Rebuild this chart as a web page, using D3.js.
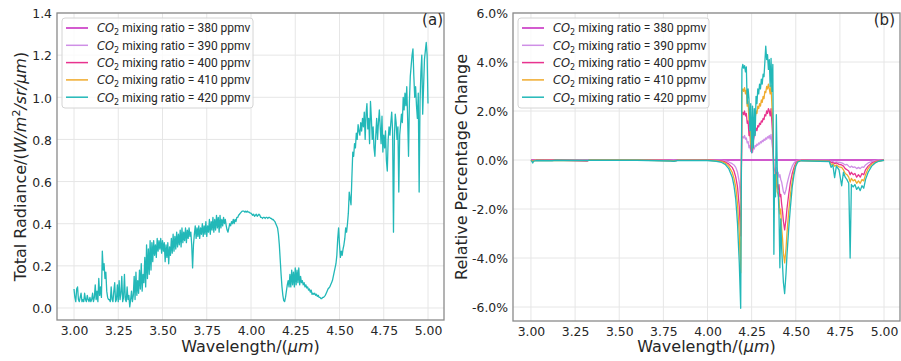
<!DOCTYPE html>
<html>
<head>
<meta charset="utf-8">
<script src="https://cdn.jsdelivr.net/npm/d3@7"></script>
<style>
  body { margin: 0; background: #fff; }
  svg { display: block; }
</style>
</head>
<body>
<svg id="chart" width="901" height="361"></svg>
<script>
// ---- data ----
const ppmvLevels = [380, 390, 400, 410, 420];
const seriesColors = ["#c424bf", "#cf8fe6", "#e8338f", "#f0ab2c", "#22b8b8"];

const xTickValues = [3.00, 3.25, 3.50, 3.75, 4.00, 4.25, 4.50, 4.75, 5.00];
const radianceTickValues = [0.0, 0.2, 0.4, 0.6, 0.8, 1.0, 1.2, 1.4];
const pctTickValues = [-6, -4, -2, 0, 2, 4, 6];

// total radiance spectrum (420 ppmv), one value every 0.005 µm from 3.000 to 5.000
const radianceStart = 3.00, radianceStep = 0.005;
const radiance420 = [
  0.09, 0.05, 0.03, 0.09, 0.10, 0.04, 0.03, 0.05, 0.07, 0.03, 0.04, 0.03, 0.07, 0.04, 0.03, 0.06, 0.04, 0.03, 0.05, 0.03, // 3.0
  0.04, 0.07, 0.03, 0.05, 0.11, 0.04, 0.08, 0.03, 0.14, 0.06, 0.10, 0.05, 0.27, 0.18, 0.21, 0.14, 0.17, 0.08, 0.05, 0.04, // 3.1
  0.04, 0.03, 0.10, 0.04, 0.03, 0.08, 0.12, 0.03, 0.04, 0.11, 0.03, 0.13, 0.04, 0.07, 0.15, 0.03, 0.05, 0.16, 0.04, 0.03, // 3.2
  0.10, 0.04, 0.06, 0.005, 0.04, 0.08, 0.03, 0.06, 0.15, 0.04, 0.17, 0.06, 0.13, 0.07, 0.18, 0.09, 0.21, 0.08, 0.16, 0.12, // 3.3
  0.24, 0.10, 0.30, 0.14, 0.28, 0.16, 0.32, 0.18, 0.31, 0.22, 0.32, 0.25, 0.30, 0.24, 0.33, 0.27, 0.32, 0.28, 0.33, 0.26, // 3.4
  0.32, 0.27, 0.31, 0.22, 0.30, 0.24, 0.31, 0.21, 0.29, 0.25, 0.33, 0.26, 0.35, 0.27, 0.34, 0.28, 0.36, 0.29, 0.35, 0.30, // 3.5
  0.37, 0.29, 0.38, 0.31, 0.36, 0.32, 0.38, 0.31, 0.37, 0.33, 0.38, 0.34, 0.36, 0.30, 0.19, 0.30, 0.35, 0.39, 0.33, 0.38, // 3.6
  0.34, 0.39, 0.33, 0.38, 0.35, 0.40, 0.34, 0.39, 0.35, 0.41, 0.34, 0.39, 0.36, 0.42, 0.35, 0.41, 0.37, 0.43, 0.36, 0.42, // 3.7
  0.37, 0.44, 0.38, 0.43, 0.36, 0.44, 0.38, 0.42, 0.39, 0.43, 0.40, 0.42, 0.39, 0.37, 0.36, 0.38, 0.40, 0.39, 0.41, 0.40, // 3.8
  0.42, 0.40, 0.42, 0.41, 0.43, 0.43, 0.44, 0.445, 0.45, 0.455, 0.46, 0.46, 0.46, 0.455, 0.46, 0.455, 0.46, 0.455, 0.455, 0.45, // 3.9
  0.45, 0.445, 0.44, 0.445, 0.435, 0.44, 0.445, 0.435, 0.44, 0.445, 0.44, 0.43, 0.43, 0.425, 0.43, 0.43, 0.425, 0.43, 0.43, 0.425, // 4.0
  0.43, 0.43, 0.425, 0.425, 0.42, 0.42, 0.415, 0.41, 0.40, 0.39, 0.38, 0.35, 0.30, 0.23, 0.16, 0.10, 0.06, 0.035, 0.03, 0.05, // 4.1
  0.08, 0.11, 0.13, 0.10, 0.16, 0.10, 0.18, 0.11, 0.17, 0.10, 0.19, 0.11, 0.18, 0.12, 0.19, 0.11, 0.15, 0.12, 0.13, 0.11, // 4.2
  0.12, 0.10, 0.11, 0.095, 0.10, 0.085, 0.09, 0.075, 0.085, 0.065, 0.07, 0.065, 0.07, 0.06, 0.065, 0.055, 0.06, 0.05, 0.05, 0.045, // 4.3
  0.045, 0.05, 0.05, 0.055, 0.06, 0.07, 0.08, 0.09, 0.095, 0.10, 0.11, 0.12, 0.13, 0.15, 0.17, 0.19, 0.21, 0.25, 0.33, 0.38, // 4.4
  0.30, 0.24, 0.27, 0.25, 0.28, 0.30, 0.33, 0.38, 0.36, 0.40, 0.45, 0.55, 0.52, 0.49, 0.62, 0.74, 0.72, 0.78, 0.76, 0.83, // 4.5
  0.80, 0.87, 0.84, 0.82, 0.88, 0.84, 0.90, 0.86, 0.93, 0.80, 0.92, 0.97, 0.85, 0.90, 0.78, 0.98, 0.90, 0.80, 0.86, 0.76, // 4.6
  0.72, 0.82, 0.90, 0.80, 0.88, 0.94, 0.86, 0.78, 0.91, 0.74, 0.82, 0.76, 0.84, 0.70, 0.65, 0.80, 0.86, 0.82, 0.88, 0.93, // 4.7
  0.84, 0.36, 0.80, 0.92, 0.88, 0.80, 0.86, 0.55, 0.82, 0.87, 0.92, 0.88, 1.00, 0.94, 1.02, 0.96, 1.05, 0.90, 0.72, 0.98, // 4.8
  1.10, 1.15, 1.20, 1.23, 1.10, 1.00, 1.05, 0.96, 0.90, 1.02, 0.55, 0.98, 1.12, 1.20, 0.92, 1.05, 1.18, 1.22, 1.26, 1.20, // 4.9
  0.97                                                                                                                  // 5.0
];

// relative percentage change against the 380 ppmv run
const pct380Wl = [3.00, 5.00];
const pct380 = [0, 0];

const pctWl = [
  3.000, 3.005, 3.010, 3.015, 3.030, 3.120, 3.140, 3.320, 3.330, 3.600,
  3.790, 3.810, 3.830, 4.000, 4.050, 4.080, 4.100, 4.120, 4.140, 4.150,
  4.160, 4.170, 4.180, 4.188, 4.195, 4.200, 4.205, 4.210, 4.215, 4.220,
  4.225, 4.230, 4.235, 4.240, 4.245, 4.250, 4.255, 4.260, 4.265, 4.270,
  4.275, 4.280, 4.285, 4.290, 4.295, 4.300, 4.305, 4.310, 4.315, 4.320,
  4.325, 4.330, 4.335, 4.340, 4.345, 4.350, 4.355, 4.360, 4.365, 4.370,
  4.373, 4.376, 4.380, 4.385, 4.390, 4.395, 4.400, 4.405, 4.410, 4.415,
  4.420, 4.425, 4.430, 4.437, 4.445, 4.450, 4.460, 4.470, 4.480, 4.490,
  4.500, 4.510, 4.530, 4.690, 4.700, 4.710, 4.720, 4.730, 4.745, 4.760,
  4.770, 4.780, 4.790, 4.800, 4.808, 4.815, 4.825, 4.835, 4.845, 4.855,
  4.865, 4.875, 4.885, 4.895, 4.910, 4.930, 4.950, 4.970, 5.000
];
const pct390 = [
  0, -0.01, -0.03, -0.01, 0, -0.01, 0, -0.01, 0, 0,
  -0.01, -0.01, 0, 0, -0.01, -0.02, -0.04, -0.08, -0.15, -0.2,
  -0.3, -0.5, -0.9, -1.6, 0.9, 0.95, 0.9, 1.0, 0.85, 0.9,
  0.7, 0.75, 0.5, 0.6, 0.35, 0.45, 0.3, 0.5, 0.45, 0.6,
  0.55, 0.65, 0.6, 0.7, 0.65, 0.75, 0.7, 0.8, 0.75, 0.85,
  0.8, 0.9, 0.85, 0.95, 0.9, 1.0, 0.85, 1.05, 0.7, 0.4,
  0.1, -0.3, -0.4, -0.5, -0.3, -0.6, -0.5, -0.7, -0.6, -0.8,
  -0.9, -1.1, -1.3, -1.4, -1.2, -1.0, -0.7, -0.45, -0.25, -0.12,
  -0.05, -0.02, 0, -0.02, -0.08, -0.06, -0.1, -0.08, -0.1, -0.12,
  -0.15, -0.2, -0.18, -0.25, -0.3, -0.25, -0.3, -0.28, -0.35, -0.3,
  -0.35, -0.28, -0.3, -0.2, -0.12, -0.06, -0.03, -0.01, 0
];
const pct400 = [
  0, -0.02, -0.05, -0.02, 0, -0.01, 0, -0.04, 0, 0,
  -0.02, -0.03, -0.01, 0, -0.02, -0.04, -0.08, -0.16, -0.3, -0.45,
  -0.7, -1.1, -1.9, -3.1, 1.9, 1.95, 1.85, 2.0, 1.8, 1.9,
  1.5, 1.6, 1.0, 1.2, 0.5, 0.3, 0.45, 0.8, 1.0, 1.1,
  1.3, 1.2, 1.4, 1.35, 1.5, 1.45, 1.6, 1.55, 1.7, 1.65,
  1.85, 1.8, 2.0, 1.9, 2.1, 2.0, 1.8, 2.1, 1.5, 0.9,
  0.2, -0.6, -0.8, -0.9, -0.5, -1.0, -1.2, -1.0, -1.5, -1.4,
  -1.8, -2.1, -2.5, -2.85, -2.4, -2.0, -1.4, -0.9, -0.55, -0.3,
  -0.12, -0.05, -0.01, -0.03, -0.12, -0.1, -0.15, -0.12, -0.18, -0.2,
  -0.25, -0.35, -0.4, -0.45, -0.6, -0.5, -0.6, -0.55, -0.7, -0.6,
  -0.7, -0.55, -0.6, -0.4, -0.25, -0.12, -0.06, -0.03, 0
];
const pct410 = [
  0, -0.03, -0.08, -0.03, -0.01, -0.02, -0.01, -0.02, 0, 0,
  -0.03, -0.04, -0.01, -0.01, -0.03, -0.07, -0.12, -0.25, -0.5, -0.75,
  -1.1, -1.8, -3.0, -4.6, 2.8, 2.9, 2.8, 2.95, 2.7, 2.85,
  2.2, 2.4, 1.6, 1.9, 0.7, 0.4, 0.9, 1.2, 1.5, 1.7,
  2.0, 1.9, 2.2, 2.1, 2.3, 2.2, 2.45, 2.35, 2.6, 2.5,
  2.8, 2.75, 3.0, 2.9, 3.1, 2.9, 2.7, 3.05, 2.2, 1.5,
  0.3, -1.2, -0.9, -1.2, -0.6, -1.3, -1.4, -1.6, -2.2, -2.0,
  -2.8, -3.2, -3.8, -4.2, -3.6, -3.0, -2.1, -1.4, -0.85, -0.45,
  -0.2, -0.07, -0.02, -0.05, -0.2, -0.15, -0.25, -0.2, -0.28, -0.3,
  -0.4, -0.55, -0.6, -0.7, -0.9, -0.75, -0.85, -0.8, -0.95, -0.85,
  -0.95, -0.8, -0.85, -0.6, -0.35, -0.18, -0.09, -0.04, -0.01
];
const pct420 = [
  -0.02, -0.05, -0.12, -0.05, -0.02, -0.03, -0.01, -0.02, -0.01, -0.01,
  -0.04, -0.05, -0.02, -0.02, -0.05, -0.1, -0.18, -0.35, -0.7, -1.05,
  -1.6, -2.6, -4.2, -6.05, 3.7, 3.9, 3.75, 3.85, 3.6, 3.8,
  2.3, 2.9, 2.5, 1.2, 2.3, 0.3, 2.2, 0.5, 2.1, 1.0,
  2.6, 2.3, 2.9, 2.7, 3.1, 2.9, 3.3, 3.1, 3.5, 3.4,
  4.0, 4.65, 4.1, 4.3, 3.7, 4.1, 3.0, 4.15, 2.8, 3.9,
  0.2, -3.85, -0.6, -1.5, 1.85, -0.3, -1.2, -2.2, -4.4, -2.4,
  -3.6, -4.3, -5.0, -5.45, -4.6, -3.9, -2.8, -1.9, -1.1, -0.6,
  -0.25, -0.09, -0.03, -0.06, -0.3, -0.2, -0.72, -0.25, -0.4, -1.05,
  -0.5, -0.7, -0.8, -0.95, -4.0, -1.0, -1.1, -1.0, -1.2, -1.1,
  -1.25, -1.05, -1.15, -0.8, -0.5, -0.25, -0.12, -0.05, -0.01
];

// ---- layout ----
const svg = d3.select("#chart");
const tickFont = "'DejaVu Sans', sans-serif";
const labelColor = "#262626";
const gridColor = "#e6e6e6";
const spineColor = "#8a8a8a";

const panels = [
  { key: "a", left: 57, right: 444, top: 13, bottom: 320,
    xDomain: [3 - 17 / 177, 5 + 16 / 177], yDomain: [-0.057, 1.4],
    yTicks: radianceTickValues, yFmt: d => d.toFixed(1) },
  { key: "b", left: 513, right: 900, top: 13, bottom: 321,
    xDomain: [3 - 18 / 177, 5 + 16 / 177], yDomain: [-6.57, 6.0],
    yTicks: pctTickValues, yFmt: d => d.toFixed(1) + "%" }
];

panels.forEach(p => {
  p.x = d3.scaleLinear().domain(p.xDomain).range([p.left, p.right]);
  p.y = d3.scaleLinear().domain(p.yDomain).range([p.bottom, p.top]);
  p.g = svg.append("g");

  svg.append("clipPath").attr("id", "clip-" + p.key)
    .append("rect").attr("x", p.left).attr("y", p.top)
    .attr("width", p.right - p.left).attr("height", p.bottom - p.top);

  // grid
  const grid = p.g.append("g");
  grid.selectAll("line.vx").data(xTickValues).join("line")
    .attr("x1", d => p.x(d)).attr("x2", d => p.x(d))
    .attr("y1", p.top).attr("y2", p.bottom)
    .attr("stroke", gridColor).attr("stroke-width", 1);
  grid.selectAll("line.hy").data(p.yTicks).join("line")
    .attr("x1", p.left).attr("x2", p.right)
    .attr("y1", d => p.y(d)).attr("y2", d => p.y(d))
    .attr("stroke", gridColor).attr("stroke-width", 1);

  // axes (labels only, no tick marks)
  const xAxis = p.g.append("g").attr("transform", `translate(0,${p.bottom})`)
    .call(d3.axisBottom(p.x).tickValues(xTickValues).tickFormat(d => d.toFixed(2)).tickSize(0).tickPadding(6));
  const yAxis = p.g.append("g").attr("transform", `translate(${p.left},0)`)
    .call(d3.axisLeft(p.y).tickValues(p.yTicks).tickFormat(p.yFmt).tickSize(0).tickPadding(5));
  [xAxis, yAxis].forEach(a => {
    a.select(".domain").remove();
    a.selectAll("text").attr("font-family", tickFont).attr("font-size", 12.4).attr("fill", labelColor);
  });
  yAxis.selectAll("text").attr("dy", "0.38em");
});

const line = (p, xs, ys) => d3.line().x((d, i) => p.x(xs[i])).y(d => p.y(d))(ys);

// panel (a): total radiance
const pa = panels[0];
const radianceWl = radiance420.map((d, i) => radianceStart + i * radianceStep);
pa.g.append("path")
  .attr("clip-path", "url(#clip-a)")
  .attr("d", line(pa, radianceWl, radiance420))
  .attr("fill", "none").attr("stroke", seriesColors[4]).attr("stroke-width", 1.3)
  .attr("stroke-linejoin", "round");

// panel (b): relative change
const pb = panels[1];
const pctSeries = [
  { wl: pct380Wl, v: pct380 },
  { wl: pctWl, v: pct390 },
  { wl: pctWl, v: pct400 },
  { wl: pctWl, v: pct410 },
  { wl: pctWl, v: pct420 }
];
pctSeries.forEach((s, i) => {
  pb.g.append("path")
    .attr("clip-path", "url(#clip-b)")
    .attr("d", line(pb, s.wl, s.v))
    .attr("fill", "none").attr("stroke", seriesColors[i]).attr("stroke-width", 1.3)
    .attr("stroke-linejoin", "round");
});

// spines, legends, panel tags, x labels
panels.forEach((p, pi) => {
  p.g.append("rect")
    .attr("x", p.left).attr("y", p.top)
    .attr("width", p.right - p.left).attr("height", p.bottom - p.top)
    .attr("fill", "none").attr("stroke", spineColor).attr("stroke-width", 1.3);

  const lgX = pi === 0 ? 62 : 518;
  const lg = p.g.append("g").attr("transform", `translate(${lgX},18)`);
  lg.append("rect").attr("width", 191).attr("height", 90).attr("rx", 3)
    .attr("fill", "#fff").attr("fill-opacity", 0.8)
    .attr("stroke", "#d4d4d4").attr("stroke-width", 1);
  ppmvLevels.forEach((lvl, i) => {
    const cy = 10 + i * 17.3;
    lg.append("line").attr("x1", 4).attr("x2", 26).attr("y1", cy).attr("y2", cy)
      .attr("stroke", seriesColors[i]).attr("stroke-width", 1.5);
    const t = lg.append("text").attr("x", 35).attr("y", cy).attr("dy", "0.36em")
      .attr("font-family", "Roboto, sans-serif").attr("font-size", 12).attr("fill", labelColor);
    t.append("tspan").attr("font-style", "italic").attr("font-family", "'DejaVu Sans', sans-serif").attr("font-size", 11.5).text("CO");
    t.append("tspan").attr("font-size", 8).attr("dy", 3).attr("font-family", "'DejaVu Sans', sans-serif").text("2");
    t.append("tspan").attr("dy", -3).text(` mixing ratio = ${lvl} ppmv`);
  });

  p.g.append("text")
    .attr("x", pi === 0 ? 443 : 895).attr("y", 25).attr("text-anchor", "end")
    .attr("font-family", tickFont).attr("font-size", 15).attr("fill", labelColor)
    .text(pi === 0 ? "(a)" : "(b)");

  const xl = p.g.append("text")
    .attr("x", (p.left + p.right) / 2).attr("y", 352).attr("text-anchor", "middle")
    .attr("font-family", tickFont).attr("font-size", 16).attr("fill", labelColor);
  xl.append("tspan").text("Wavelength/(");
  xl.append("tspan").attr("font-style", "italic").text("μm");
  xl.append("tspan").text(")");
});

// y labels
const ylA = svg.append("text")
  .attr("transform", `translate(26,${(pa.top + pa.bottom) / 2}) rotate(-90)`)
  .attr("text-anchor", "middle")
  .attr("font-family", tickFont).attr("font-size", 16).attr("fill", labelColor);
ylA.append("tspan").text("Total Radiance/(");
ylA.append("tspan").attr("font-style", "italic").text("W/m");
ylA.append("tspan").attr("font-size", 11).attr("dy", -6).text("2");
ylA.append("tspan").attr("dy", 6).attr("font-style", "italic").text("/sr/μm");
ylA.append("tspan").text(")");

svg.append("text")
  .attr("transform", `translate(467,${(pb.top + pb.bottom) / 2}) rotate(-90)`)
  .attr("text-anchor", "middle")
  .attr("font-family", tickFont).attr("font-size", 16).attr("fill", labelColor)
  .text("Relative Percentage Change");
</script>
</body>
</html>
